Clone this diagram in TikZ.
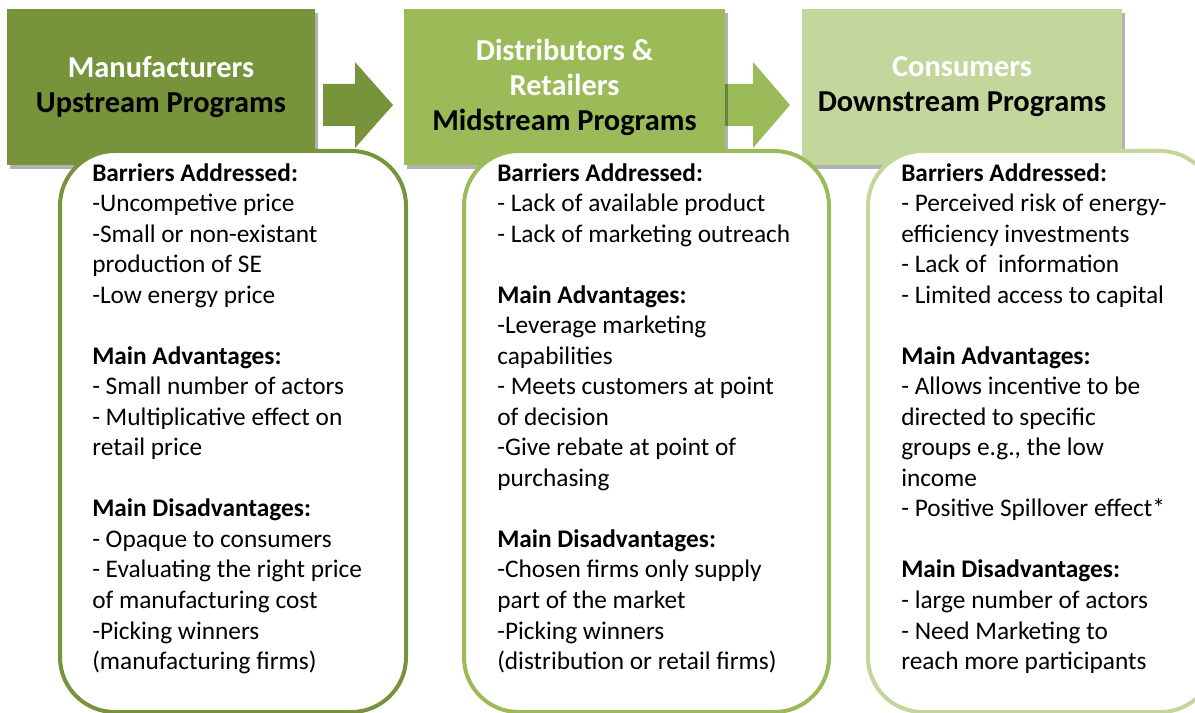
\documentclass[tikz,border=0pt]{standalone}
\usepackage{fontspec}
\setmainfont{Carlito}
\usepackage{xcolor}
\usepackage{tikz}
\usetikzlibrary{shadows}
\definecolor{dkgreen}{RGB}{119,147,60}
\definecolor{mdgreen}{RGB}{155,187,89}
\definecolor{ltgreen}{RGB}{195,214,155}
\newcommand{\Hd}[1]{\textbf{#1}}
\newcommand{\Wt}[1]{\textcolor{white}{#1}}

\begin{document}
\begin{tikzpicture}[x=0.75pt,y=-0.75pt,
    hdr/.style={minimum width=#1, minimum height=117pt, inner sep=0pt, align=center,
        font=\fontsize{22.8}{26.2}\selectfont\bfseries,
        drop shadow={shadow xshift=2.5pt, shadow yshift=-3pt, fill=black, opacity=0.3}},
    body/.style={draw=#1, line width=3pt, fill=white, rounded corners=41pt,
        minimum height=420.75pt, inner sep=0pt},
    txt/.style={anchor=north west, inner sep=0pt, align=left,
        font=\fontsize{19}{22.9}\selectfont}]
                \useasboundingbox (0,0) rectangle (1195,713);
                % block arrows
                \fill[dkgreen](323,84)--(355,84)--(355,62)--(393,105)--(355,148)--(355,126)--(323,126)--cycle;
                \fill[mdgreen](715,84)--(753,84)--(753,62)--(790,105)--(753,148)--(753,126)--(715,126)--cycle;
                % headers
                \node[hdr=231pt, fill=dkgreen] (up) at (161,87) {\Wt{Manufacturers}\\Upstream Programs};
                \node[hdr=240.75pt, fill=mdgreen] (mid) at (564.5,87) {\Wt{Distributors \&}\\\Wt{Retailers}\\Midstream Programs};
                \node[hdr=240pt, fill=ltgreen] (down) at (962,87) {\Wt{Consumers}\\Downstream Programs};
                % rounded boxes
                \node[body=dkgreen, minimum width=259.5pt] (upbox) at (233,431.5) {};
                \node[body=mdgreen, minimum width=273.75pt] (midbox) at (646.5,431.5) {};
                \node[body=ltgreen, minimum width=260.25pt] (downbox) at (1041.5,431.5) {};
                \node[txt] (uptxt) at (92,163) {\Hd{Barriers Addressed:}\\-Uncompetive price\\-Small or non-existant\\production of SE\\-Low energy price\\[22.9pt]
                    \Hd{Main Advantages:}\\- Small number of actors\\- Multiplicative effect on\\retail price\\[22.9pt]
                    \Hd{Main Disadvantages:}\\- Opaque to consumers\\- Evaluating the right price\\of manufacturing cost\\-Picking winners\\(manufacturing firms)};
                \node[txt] (midtxt) at (497,163) {\Hd{Barriers Addressed:}\\- Lack of available product\\- Lack of marketing outreach\\[22.9pt]
                    \Hd{Main Advantages:}\\-Leverage marketing\\capabilities\\- Meets customers at point\\of decision\\-Give rebate at point of\\purchasing\\[22.9pt]
                    \Hd{Main Disadvantages:}\\-Chosen firms only supply\\part of the market\\-Picking winners\\(distribution or retail firms)};
                \node[txt] (downtxt) at (901,163) {\Hd{Barriers Addressed:}\\- Perceived risk of energy-\\efficiency investments\\- Lack of \ information\\- Limited access to capital\\[22.9pt]
                    \Hd{Main Advantages:}\\- Allows incentive to be\\directed to specific\\groups e.g., the low\\income\\- Positive Spillover effect*\\[22.9pt]
                    \Hd{Main Disadvantages:}\\- large number of actors\\- Need Marketing to\\reach more participants};
            \end{tikzpicture}
\end{document}
